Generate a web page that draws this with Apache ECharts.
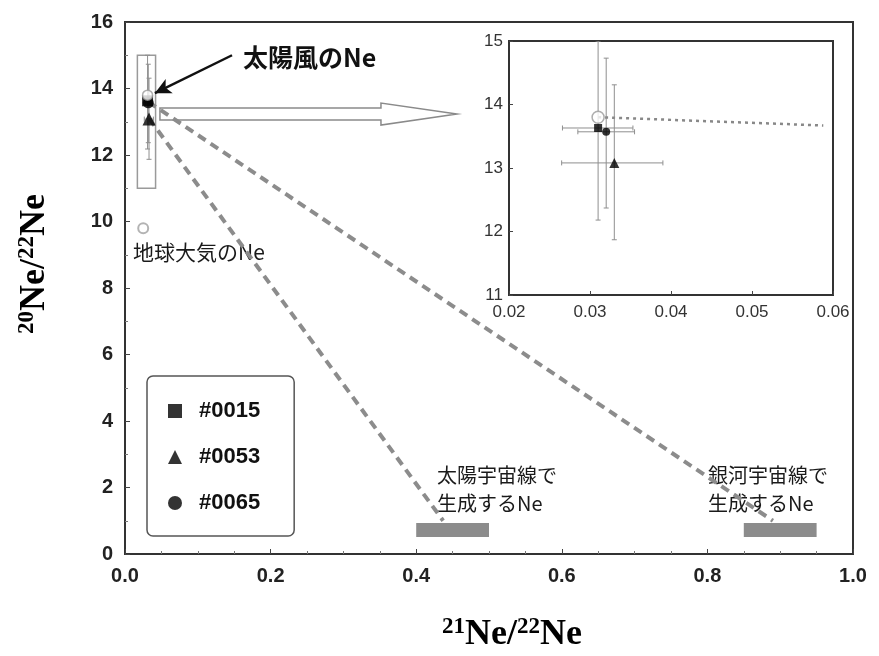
<!DOCTYPE html>
<html><head><meta charset="utf-8">
<script src="https://cdn.jsdelivr.net/npm/echarts@6/dist/echarts.min.js"></script>
<style>html,body{margin:0;padding:0;background:#fff}#c{width:879px;height:656px}</style>
</head><body><div id="c"></div><script>
// Neon isotope ratios of the samples (21Ne/22Ne, 20Ne/22Ne)
const samples = ['#0015', '#0053', '#0065'];
const sampleSymbols = ['rect', 'triangle', 'circle'];
const ne21 = [0.031, 0.033, 0.032];
const ne20 = [13.63, 13.08, 13.57];
const ne21Err = [[0.0266, 0.0353], [0.0265, 0.039], [0.0285, 0.0355]];
const ne20Err = [[12.18, 15.0], [11.87, 14.31], [12.37, 14.73]];
// reference compositions
const solarWind = [0.031, 13.8];
const earthAir = [0.025, 9.8];
// mixing lines toward cosmic-ray produced neon
const solarCRLine = [[0.033, 13.1], [0.437, 1.0]];
const galacticCRLine = [[0.032, 13.6], [0.89, 1.0]];
// cosmic-ray produced neon ranges: [x0, x1, y0, y1]
const crBars = [[0.40, 0.50, 0.51, 0.93], [0.85, 0.95, 0.51, 0.93]];
// enlarged region marker and pointer arrows
const zoomBox = [[0.017, 0.042, 11, 15]];
const zoomArrow = [[0.048, 13.23, 0.456]];
const solarWindPointer = [[0.147, 15.0], [0.041, 13.86]];
// trend inside the enlarged panel
const insetTrend = [[0.031, 13.8], [0.0588, 13.67]];

const sansFont = '"Liberation Sans", Arial, sans-serif';
const jpFont = '"Noto Sans CJK JP", sans-serif';
const serifFont = '"Liberation Serif", "Times New Roman", serif';

const chart = echarts.init(document.getElementById('c'));

const errData = samples.map((s, i) => [ne21[i], ne20[i], ne21Err[i][0], ne21Err[i][1], ne20Err[i][0], ne20Err[i][1]]);

function errorBarItem(params, api) {
  const x = api.value(0), y = api.value(1);
  const a = api.coord([api.value(2), y]), b = api.coord([api.value(3), y]);
  const c = api.coord([x, api.value(4)]), d = api.coord([x, api.value(5)]);
  const cap = 2.5;
  const style = { stroke: '#8f8f8f', lineWidth: 1 };
  const ln = (x1, y1, x2, y2) => ({ type: 'line', shape: { x1, y1, x2, y2 }, style });
  return {
    type: 'group', children: [
      ln(a[0], a[1], b[0], b[1]),
      ln(a[0], a[1] - cap, a[0], a[1] + cap),
      ln(b[0], b[1] - cap, b[0], b[1] + cap),
      ln(c[0], c[1], d[0], d[1]),
      ln(c[0] - cap, c[1], c[0] + cap, c[1]),
      ln(d[0] - cap, d[1], d[0] + cap, d[1])
    ]
  };
}

function rectItem(fill, stroke, lw) {
  return function (params, api) {
    const p0 = api.coord([api.value(0), api.value(3)]);
    const p1 = api.coord([api.value(1), api.value(2)]);
    return {
      type: 'rect',
      shape: { x: p0[0], y: p0[1], width: p1[0] - p0[0], height: p1[1] - p0[1] },
      style: { fill: fill, stroke: stroke, lineWidth: lw }
    };
  };
}

const mainSizes = [11, 13, 11];
const insetSizes = [8, 10, 8];

const series = [
  { type: 'custom', name: 'err-main', xAxisIndex: 0, yAxisIndex: 0, renderItem: errorBarItem, data: errData, z: 3, silent: true },
  { type: 'custom', name: 'err-inset', xAxisIndex: 1, yAxisIndex: 1, renderItem: errorBarItem, data: errData, z: 3, silent: true, clip: true },
  { type: 'line', name: 'solar-cr', xAxisIndex: 0, yAxisIndex: 0, data: solarCRLine, symbol: 'none', z: 2,
    lineStyle: { color: '#8c8c8c', width: 4, type: [9, 6] } },
  { type: 'line', name: 'galactic-cr', xAxisIndex: 0, yAxisIndex: 0, data: galacticCRLine, symbol: 'none', z: 2,
    lineStyle: { color: '#8c8c8c', width: 4, type: [9, 6] } },
  { type: 'line', name: 'inset-trend', xAxisIndex: 1, yAxisIndex: 1, data: insetTrend, symbol: 'none', z: 2,
    lineStyle: { color: '#888', width: 2.5, type: [3, 4] } },
  { type: 'custom', name: 'cr-bars', xAxisIndex: 0, yAxisIndex: 0, renderItem: rectItem('#8c8c8c', null, 0),
    data: crBars, encode: { x: [0, 1], y: [2, 3] }, z: 2, silent: true },
  { type: 'custom', name: 'zoom-box', xAxisIndex: 0, yAxisIndex: 0, renderItem: rectItem('rgba(0,0,0,0)', '#9a9a9a', 1.5),
    data: zoomBox, encode: { x: [0, 1], y: [2, 3] }, z: 1, silent: true },
  { type: 'custom', name: 'zoom-arrow', xAxisIndex: 0, yAxisIndex: 0, data: zoomArrow, z: 2, silent: true,
    encode: { x: [0, 2], y: 1 },
    renderItem: function (params, api) {
      const p0 = api.coord([api.value(0), api.value(1)]);
      const p1 = api.coord([api.value(2), api.value(1)]);
      const sh = 6, hh = 11, hl = 76;
      const yc = p0[1], xb = p1[0] - hl;
      return {
        type: 'polygon',
        shape: { points: [[p0[0], yc - sh], [xb, yc - sh], [xb, yc - hh], [p1[0], yc], [xb, yc + hh], [xb, yc + sh], [p0[0], yc + sh]] },
        style: { fill: '#fff', stroke: '#8a8a8a', lineWidth: 1.5 }
      };
    } },
  { type: 'scatter', name: 'pointer', xAxisIndex: 0, yAxisIndex: 0, data: [], silent: true,
    markLine: { silent: true, symbol: ['none', 'arrow'], symbolSize: [12, 16], label: { show: false },
      lineStyle: { color: '#111', width: 2.5, type: 'solid' },
      data: [[{ coord: solarWindPointer[0] }, { coord: solarWindPointer[1] }]] } },
  { type: 'scatter', name: 'earth-air', xAxisIndex: 0, yAxisIndex: 0, data: [earthAir], symbol: 'circle', symbolSize: 10, z: 5,
    itemStyle: { color: '#fff', borderColor: '#a0a0a0', borderWidth: 2 } }
];

samples.forEach((s, i) => {
  series.push({ type: 'scatter', name: s, xAxisIndex: 0, yAxisIndex: 0, data: [[ne21[i], ne20[i]]],
    symbol: sampleSymbols[i], symbolSize: mainSizes[i], z: 5, itemStyle: { color: '#000' } });
  series.push({ type: 'scatter', name: s, xAxisIndex: 1, yAxisIndex: 1, data: [[ne21[i], ne20[i]]],
    symbol: sampleSymbols[i], symbolSize: insetSizes[i], z: 5, itemStyle: { color: '#000' } });
});
series.push({ type: 'scatter', name: 'solar-wind', xAxisIndex: 0, yAxisIndex: 0, data: [solarWind], symbol: 'circle', symbolSize: 10, z: 6,
  itemStyle: { color: '#fff', borderColor: '#9a9a9a', borderWidth: 1.5 } });
series.push({ type: 'scatter', name: 'solar-wind', xAxisIndex: 1, yAxisIndex: 1, data: [solarWind], symbol: 'circle', symbolSize: 12, z: 6,
  itemStyle: { color: '#fff', borderColor: '#9a9a9a', borderWidth: 1.5 } });

const ratioRich = {
  sup: { fontFamily: serifFont, fontWeight: 'bold', fontSize: 23, color: '#111', verticalAlign: 'top', lineHeight: 38 },
  n: { fontFamily: serifFont, fontWeight: 'bold', fontSize: 36, color: '#111', verticalAlign: 'middle', lineHeight: 38 }
};

chart.setOption({
  animation: false,
  backgroundColor: '#fff',
  grid: [
    { left: 125, top: 22, width: 728, height: 532, show: true, borderColor: '#333', borderWidth: 2, backgroundColor: 'rgba(0,0,0,0)' },
    { left: 509, top: 41, width: 324, height: 254, show: true, borderColor: '#333', borderWidth: 2, backgroundColor: '#fff' }
  ],
  xAxis: [
    { type: 'value', gridIndex: 0, min: 0, max: 1, interval: 0.2,
      axisLine: { show: false }, splitLine: { show: false },
      axisTick: { inside: true, length: 5, lineStyle: { color: '#444' } },
      minorTick: { show: true, splitNumber: 4, length: 3, lineStyle: { color: '#777' } },
      axisLabel: { margin: 12, fontFamily: sansFont, fontWeight: 'bold', fontSize: 20, color: '#222', formatter: v => v.toFixed(1) } },
    { type: 'value', gridIndex: 1, min: 0.02, max: 0.06, interval: 0.01,
      axisLine: { show: false }, splitLine: { show: false },
      axisTick: { inside: true, length: 4, lineStyle: { color: '#444' } },
      axisLabel: { margin: 9, fontFamily: sansFont, fontSize: 17, color: '#333', formatter: v => v.toFixed(2) } }
  ],
  yAxis: [
    { type: 'value', gridIndex: 0, min: 0, max: 16, interval: 2,
      axisLine: { show: false }, splitLine: { show: false },
      axisTick: { inside: true, length: 5, lineStyle: { color: '#444' } },
      minorTick: { show: true, splitNumber: 2, length: 3, lineStyle: { color: '#777' } },
      axisLabel: { margin: 12, fontFamily: sansFont, fontWeight: 'bold', fontSize: 20, color: '#222' } },
    { type: 'value', gridIndex: 1, min: 11, max: 15, interval: 1,
      axisLine: { show: false }, splitLine: { show: false },
      axisTick: { inside: true, length: 4, lineStyle: { color: '#444' } },
      axisLabel: { margin: 6, fontFamily: sansFont, fontSize: 17, color: '#333' } }
  ],
  legend: {
    orient: 'vertical', left: 147, top: 376,
    padding: [24, 34, 22, 21], itemGap: 24, itemWidth: 14, itemHeight: 14,
    borderColor: '#555', borderWidth: 1.5, borderRadius: 6, backgroundColor: '#fff',
    selectedMode: false,
    textStyle: { fontFamily: sansFont, fontWeight: 'bold', fontSize: 22, color: '#111', lineHeight: 20, padding: [0, 0, 0, 12] },
    data: samples.map((s, i) => ({ name: s, icon: sampleSymbols[i] }))
  },
  graphic: [
    { type: 'text', left: 243, top: 45, style: { text: '太陽風のNe', fontFamily: jpFont, fontWeight: 'bold', fontSize: 25, fill: '#111' } },
    { type: 'text', left: 133, top: 242, style: { text: '地球大気のNe', fontFamily: jpFont, fontSize: 21, fill: '#1a1a1a' } },
    { type: 'text', left: 437, top: 461, style: { text: '太陽宇宙線で\n生成するNe', fontFamily: jpFont, fontSize: 20, lineHeight: 28, fill: '#1a1a1a' } },
    { type: 'text', left: 708, top: 461, style: { text: '銀河宇宙線で\n生成するNe', fontFamily: jpFont, fontSize: 20, lineHeight: 28, fill: '#1a1a1a' } },
    { type: 'text', x: 512, y: 635, style: { text: '{sup|21}{n|Ne/}{sup|22}{n|Ne}', rich: ratioRich, align: 'center', verticalAlign: 'middle' } },
    { type: 'text', x: 35, y: 264, rotation: Math.PI / 2, style: { text: '{sup|20}{n|Ne/}{sup|22}{n|Ne}', rich: ratioRich, align: 'center', verticalAlign: 'middle' } }
  ],
  series: series
});
</script></body></html>
